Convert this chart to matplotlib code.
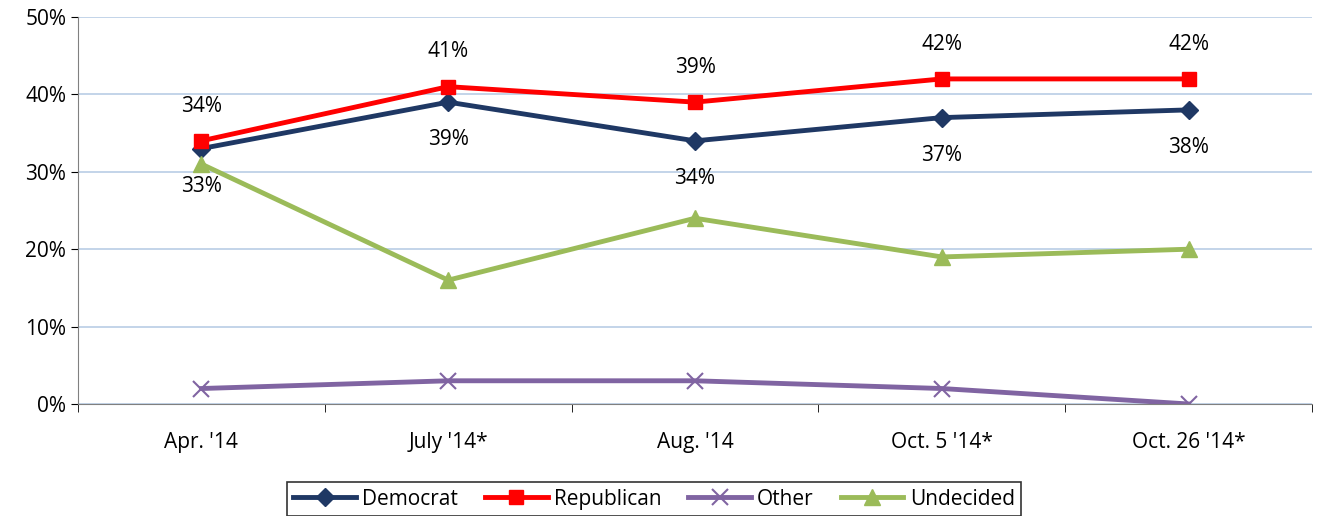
import matplotlib.pyplot as plt

categories = ["Apr. '14", "July '14*", "Aug. '14", "Oct. 5 '14*", "Oct. 26 '14*"]
democrat = [33, 39, 34, 37, 38]
republican = [34, 41, 39, 42, 42]
other = [2, 3, 3, 2, 0]
undecided = [31, 16, 24, 19, 20]

plt.rcParams['font.family'] = ['Open Sans', 'DejaVu Sans']

fig = plt.figure(figsize=(13.17, 5.16), dpi=100)
ax = fig.add_axes([78/1317, 1-404/516, 1234/1317, 387/516])

x = [i + 0.5 for i in range(len(categories))]
ax.plot(x, democrat, color='#1f3864', lw=3.5, marker='D', ms=9, label='Democrat')
ax.plot(x, republican, color='#ff0000', lw=3.5, marker='s', ms=10, label='Republican')
ax.plot(x, other, color='#8064a2', lw=3.5, marker='x', ms=11, mew=1.5, label='Other')
ax.plot(x, undecided, color='#9bbb59', lw=3.5, marker='^', ms=12, label='Undecided')

for xi, r, d in zip(x, republican, democrat):
    ax.annotate(f"{r}%", (xi, r), xytext=(0, 25), textcoords='offset points',
                ha='center', va='center', fontsize=15)
    ax.annotate(f"{d}%", (xi, d), xytext=(0, -27), textcoords='offset points',
                ha='center', va='center', fontsize=15)

ax.set_xlim(0, 5)
ax.set_ylim(0, 50)
ax.set_yticks(range(0, 51, 10))
ax.set_yticklabels([f"{v}%" for v in range(0, 51, 10)], fontsize=15)
ax.set_xticks(x)
ax.set_xticklabels(categories, fontsize=15)
ax.set_xticks(range(6), minor=True)
ax.tick_params(axis='x', which='major', length=0, pad=20)
ax.tick_params(axis='x', which='minor', length=6)
ax.tick_params(axis='y', length=5)
ax.grid(axis='y', color='#b9cde5', lw=1.2)
ax.set_axisbelow(True)
for s in ['top', 'right']:
    ax.spines[s].set_visible(False)
ax.spines['left'].set_color('#808080')
ax.spines['bottom'].set_color('#808080')

leg = fig.legend(loc='lower center', bbox_to_anchor=(654/1317, -0.02), ncol=4, fontsize=15,
                 frameon=True, fancybox=False, edgecolor='black', handlelength=3,
                 borderpad=0.3, columnspacing=1.3, handletextpad=0.3)
leg.get_frame().set_linewidth(1.2)

fig.savefig('out.png')
